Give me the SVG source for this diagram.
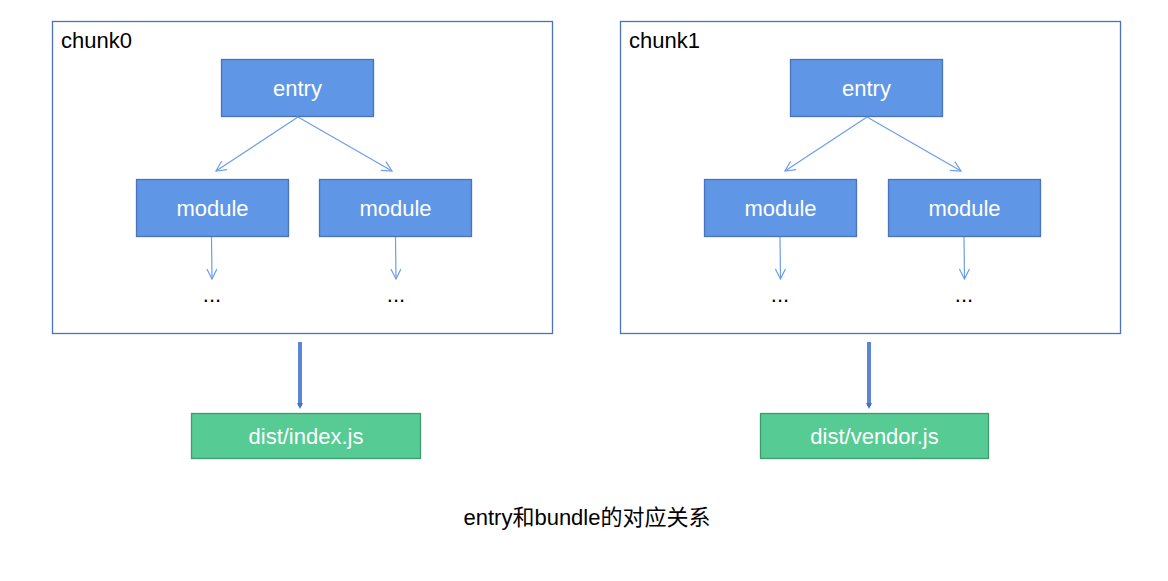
<svg xmlns="http://www.w3.org/2000/svg" width="1168" height="581" viewBox="0 0 1168 581">
<style>
.chunk{fill:#ffffff;stroke:#4A72BE;stroke-width:1.3}
.node{fill:#6096E6;stroke:#4A72BE;stroke-width:1.3}
.out{fill:#56CB93;stroke:#3E9B6E;stroke-width:1.3}
.t{font-family:"Liberation Sans",Arial,"Noto Sans CJK SC",sans-serif;font-size:22px}
.w{fill:#ffffff;text-anchor:middle}
.k{fill:#000000}
.c{fill:#000000;text-anchor:middle}
.thin{stroke:#6D9EEB;stroke-width:1.2;fill:none}
.thick{stroke:#5B86D6;stroke-width:4;fill:none}
</style>
<defs>
<marker id="open" viewBox="0 0 12 12" refX="11" refY="6" markerWidth="12" markerHeight="12" markerUnits="userSpaceOnUse" orient="auto">
<path d="M1,1 L11,6 L1,11" fill="none" stroke="#6D9EEB" stroke-width="1.2"/>
</marker>
<marker id="fat" viewBox="0 0 10 10" refX="5" refY="5" markerWidth="10" markerHeight="6" markerUnits="userSpaceOnUse" orient="auto">
<path d="M0,0 L10,5 L0,10 Z" fill="#4A72BE"/>
</marker>
</defs>
<rect width="1168" height="581" fill="#ffffff"/>
<g id="chunk0">
<rect class="chunk" x="52.5" y="21.5" width="500" height="312"/>
<text class="t k" x="61" y="48">chunk0</text>
</g>
<g id="chunk1">
<rect class="chunk" x="620.5" y="21.5" width="500" height="312"/>
<text class="t k" x="629" y="48">chunk1</text>
</g>
<g id="entry0"><rect class="node" x="221.5" y="59.5" width="152" height="57"/><text class="t w" x="297.5" y="96">entry</text></g>
<g id="module0a"><rect class="node" x="136.5" y="179.5" width="152" height="57"/><text class="t w" x="212.5" y="216">module</text></g>
<g id="module0b"><rect class="node" x="319.5" y="179.5" width="152" height="57"/><text class="t w" x="395.5" y="216">module</text></g>
<g id="dots0a"><text class="t c" x="212" y="302">...</text></g>
<g id="dots0b"><text class="t c" x="396" y="302">...</text></g>
<g id="entry1"><rect class="node" x="790.5" y="59.5" width="152" height="57"/><text class="t w" x="866.5" y="96">entry</text></g>
<g id="module1a"><rect class="node" x="704.5" y="179.5" width="152" height="57"/><text class="t w" x="780.5" y="216">module</text></g>
<g id="module1b"><rect class="node" x="888.5" y="179.5" width="152" height="57"/><text class="t w" x="964.5" y="216">module</text></g>
<g id="dots1a"><text class="t c" x="780" y="302">...</text></g>
<g id="dots1b"><text class="t c" x="964" y="302">...</text></g>
<g id="out0"><rect class="out" x="191.5" y="413.5" width="229" height="45"/><text class="t w" x="306" y="444">dist/index.js</text></g>
<g id="out1"><rect class="out" x="760.5" y="413.5" width="228" height="45"/><text class="t w" x="874.5" y="444">dist/vendor.js</text></g>
<g id="connectors">
<line class="thin" x1="298" y1="117" x2="216" y2="171" marker-end="url(#open)"/>
<line class="thin" x1="298" y1="117" x2="392" y2="171" marker-end="url(#open)"/>
<line class="thin" x1="211.5" y1="237" x2="212" y2="279" marker-end="url(#open)"/>
<line class="thin" x1="395.5" y1="237" x2="396" y2="279" marker-end="url(#open)"/>
<line class="thin" x1="867" y1="117" x2="785" y2="171" marker-end="url(#open)"/>
<line class="thin" x1="867" y1="117" x2="961" y2="171" marker-end="url(#open)"/>
<line class="thin" x1="780" y1="237" x2="780.5" y2="279" marker-end="url(#open)"/>
<line class="thin" x1="964" y1="237" x2="964.5" y2="279" marker-end="url(#open)"/>
<line class="thick" x1="300" y1="342" x2="300" y2="406" marker-end="url(#fat)"/>
<line class="thick" x1="869" y1="342" x2="869" y2="406" marker-end="url(#fat)"/>
</g>
<g id="caption"><text class="t c" x="587" y="525">entry和bundle的对应关系</text></g>
</svg>
